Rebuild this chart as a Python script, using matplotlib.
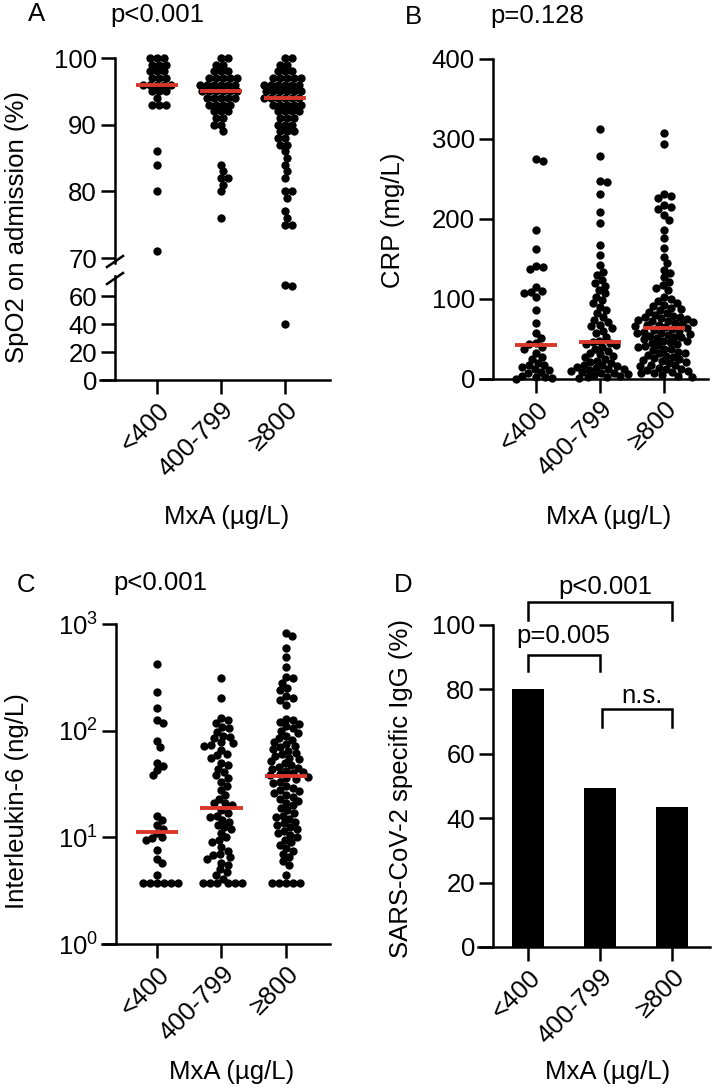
import numpy as np
import matplotlib.pyplot as plt
from matplotlib.lines import Line2D
from matplotlib.ticker import NullLocator

plt.rcParams['font.family'] = ['Liberation Sans', 'DejaVu Sans']
FS = 18.5
LW = 1.8
RED = '#d8382b'

groups = ['<400', '400-799', '\u2265800']

# SpO2 on admission (%)
spo2_lo = [100, 100, 100, 99, 99, 99, 98, 98, 98, 97, 97, 97, 96, 96, 96, 96, 96,
           95, 95, 95, 94, 93, 93, 93, 86, 84, 80, 71]
spo2_mid = [100, 100, 99, 99, 98, 98, 98, 97, 97, 97, 97, 97, 96, 96, 96, 96, 96, 96,
            95, 95, 95, 95, 95, 95, 94, 94, 94, 94, 94, 93, 93, 93, 93, 92, 92, 92,
            91, 91, 90, 90, 89, 84, 83, 82, 82, 81, 80, 76]
spo2_hi = [100, 100, 99, 99, 98, 98, 98, 97, 97, 97, 97, 97, 96, 96, 96, 96, 96, 96,
           95, 95, 95, 95, 95, 95, 94, 94, 94, 94, 94, 94, 93, 93, 93, 93, 93,
           92, 92, 92, 92, 91, 91, 91, 90, 90, 90, 89, 89, 89, 88, 88, 87, 87,
           86, 85, 84, 83, 82, 80, 80, 79, 77, 76, 75, 75, 68, 67, 40]
spo2_med = [96, 95, 94]

# CRP (mg/L)
crp_lo = [275, 272, 186, 163, 141, 140, 137, 115, 110, 109, 108, 103, 86, 70, 57, 51,
          45, 44, 40, 38, 32, 27, 25, 20, 18, 17, 15, 12, 11, 9, 8, 4, 3, 2, 1, 0.5]
crp_mid = [312, 279, 248, 246, 231, 209, 195, 167, 155, 142, 134, 130, 124, 120, 116,
           111, 107, 103, 99, 95, 90, 86, 82, 78, 74, 71, 68, 66, 64, 60, 57, 52, 48,
           46, 45, 44, 42, 40, 38, 35, 33, 31, 29, 27, 25, 23, 21, 20, 18, 17, 16, 15,
           14, 13, 12, 11, 10, 9, 8, 7, 6, 5, 4, 3, 2, 1]
crp_hi = [307, 294, 231, 229, 226, 217, 215, 213, 205, 199, 186, 176, 164, 153, 145,
          136, 132, 127, 121, 117, 114, 111, 102, 100, 97, 95, 93, 91, 89, 88, 86, 84,
          82, 80, 79, 78, 77, 76, 75, 74, 73, 72, 71, 70, 69, 68, 67, 66, 65, 64,
          62, 61, 60, 59, 58, 57, 56, 55, 54, 53, 52, 51, 50, 48, 47, 46, 45, 44, 42,
          41, 40, 38, 37, 36, 34, 33, 32, 30, 29, 28, 26, 25, 24, 22, 21, 20, 18, 17,
          16, 14, 13, 12, 11, 10, 9, 8, 7, 5, 4, 3]
crp_med = [42, 46, 64]

# Interleukin-6 (ng/L)
il6_lo = [421, 229, 164, 126, 118, 80, 70, 50, 47, 43, 38, 16, 14.5, 13, 12, 11, 10,
          9.8, 9.4, 7.6, 6.3, 5.7, 4.4, 3.75, 3.75, 3.75, 3.75, 3.75, 3.75]
il6_mid = [310, 202, 131, 126, 118, 108, 105, 97, 90, 87, 85, 78, 76, 74, 72, 66, 61,
           59, 55, 50, 48, 44, 41, 38, 36, 33, 30, 28, 25, 23, 21, 21, 20, 18, 17, 16,
           15.5, 14.5, 14, 13, 12.5, 12, 11, 10, 9.5, 9, 8.1, 7.5, 7, 6.8, 6.5, 6.2,
           5.8, 5.5, 5, 4.7, 4.4, 4.1, 3.75, 3.75, 3.75, 3.75, 3.75, 3.75]
il6_hi = [817, 770, 595, 490, 395, 318, 310, 280, 250, 240, 210, 202, 195, 173, 130,
          125, 120, 115, 110, 105, 100, 95, 90, 86, 82, 78, 75, 72, 70, 67, 65, 62, 60,
          58, 56, 54, 52, 50, 48, 46, 45, 44, 42, 41, 40, 39, 38, 37, 36, 35, 33, 32,
          30, 29, 28, 27, 26, 25, 24, 23, 22, 21, 20, 19, 18, 17, 16, 15.5, 15, 14,
          13.5, 13, 12.5, 12, 11.5, 11, 10.5, 10, 9.5, 9, 8.5, 8, 7.5, 7, 6.5, 6, 5.5,
          4.4, 3.75, 3.75, 3.75, 3.75, 3.75]
il6_med = [11.1, 18.8, 37.5]

# SARS-CoV-2 specific IgG (%)
igg_pct = [80, 49.3, 43.6]

W, H = 712, 1092
fig = plt.figure(figsize=(W / 100, H / 100), dpi=100)


def fx(px):
    return px / W


def fy(py):
    return 1 - py / H


def px_axes(l, r, t, b, x0, step):
    ax = fig.add_axes([l / W, 1 - b / H, (r - l) / W, (b - t) / H])
    ax.set_xlim((l - x0) / step, (r - x0) / step)
    ax.patch.set_alpha(0)
    for s in ['top', 'right']:
        ax.spines[s].set_visible(False)
    ax.spines['left'].set_linewidth(LW)
    ax.spines['bottom'].set_linewidth(LW)
    ax.tick_params(direction='out', length=10, width=LW, labelsize=FS, pad=3)
    return ax


def swarm(ax, xc, vals, d=7.0):
    vals = np.asarray(vals, dtype=float)
    pts = ax.transData.transform(np.column_stack([np.full(len(vals), xc), vals]))
    ys = pts[:, 1]
    x0 = pts[0, 0]
    offs = np.zeros(len(vals))
    px, py = [], []
    for i in np.argsort(-ys, kind='stable'):
        y = ys[i]
        near = [(a, b) for a, b in zip(px, py) if abs(b - y) < d]
        cands = [0.0]
        for a, b in near:
            dx = np.sqrt(d * d - (b - y) ** 2)
            cands += [a + dx, a - dx]
        cands.sort(key=abs)
        for c in cands:
            if all((c - a) ** 2 + (y - b) ** 2 >= d * d - 1e-6 for a, b in near):
                offs[i] = c
                break
        px.append(offs[i])
        py.append(y)
    inv = ax.transData.inverted()
    return inv.transform(np.column_stack([x0 + offs, ys]))[:, 0]


def dots(ax, xc, vals, d=7.0):
    if len(vals) == 0:
        return
    xs = swarm(ax, xc, vals, d)
    ax.scatter(xs, vals, s=36, c='black', linewidths=0, clip_on=False, zorder=3)


def median_bar(ax, xc, m):
    ax.plot([xc - 0.33, xc + 0.33], [m, m], color=RED, lw=2.8,
            solid_capstyle='butt', clip_on=False, zorder=4)


def xcats(ax):
    ax.set_xticks([0, 1, 2])
    ax.set_xticklabels(groups, rotation=45, ha='right', rotation_mode='anchor')


# ---- A: SpO2 with broken axis
axA1 = px_axes(100, 330, 58, 263, 157, 64)
axA1.set_ylim(69.25, 100)
axA1.spines['left'].set_position(('data', (115 - 157) / 64))
axA1.spines['bottom'].set_visible(False)
axA1.set_xticks([])
axA1.set_yticks([70, 80, 90, 100])

axA2 = px_axes(100, 330, 276, 380, 157, 64)
axA2.set_ylim(0, 104 / 1.4)
axA2.spines['left'].set_position(('data', (115 - 157) / 64))
axA2.set_yticks([0, 20, 40, 60])
xcats(axA2)

for i, g in enumerate([spo2_lo, spo2_mid, spo2_hi]):
    dots(axA1, i, [v for v in g if v >= 70])
    dots(axA2, i, [v for v in g if v < 70])
    median_bar(axA1, i, spo2_med[i])

for y1, y2 in [(267, 256), (284, 273)]:
    fig.add_artist(Line2D([fx(107), fx(123)], [fy(y1), fy(y2)], lw=LW, color='black'))

# ---- B: CRP
axB = px_axes(480, 708, 59, 379, 536, 64)
axB.set_ylim(0, 400)
axB.spines['left'].set_position(('data', (493 - 536) / 64))
axB.set_yticks([0, 100, 200, 300, 400])
xcats(axB)
for i, g in enumerate([crp_lo, crp_mid, crp_hi]):
    dots(axB, i, g)
    median_bar(axB, i, crp_med[i])

# ---- C: IL-6 (log)
axC = px_axes(102, 330, 624, 944, 157, 64.5)
axC.set_yscale('log')
axC.set_ylim(1, 1000)
axC.spines['left'].set_position(('data', (116 - 157) / 64.5))
axC.set_yticks([1, 10, 100, 1000])
axC.yaxis.set_minor_locator(NullLocator())
xcats(axC)
for i, g in enumerate([il6_lo, il6_mid, il6_hi]):
    dots(axC, i, g)
    median_bar(axC, i, il6_med[i])

# ---- D: IgG bars
axD = px_axes(478, 710, 625, 947, 528, 72)
axD.set_ylim(0, 100)
axD.spines['left'].set_position(('data', (493 - 528) / 72))
axD.set_yticks([0, 20, 40, 60, 80, 100])
xcats(axD)
axD.bar([0, 1, 2], igg_pct, width=0.44, color='black', zorder=2)

brackets = [(0, 2, 107.1, 101.6, 'p<0.001', 1.07, 109.5),
            (0, 1, 90.7, 85.7, 'p=0.005', 0.49, 94.5),
            (1.03, 2, 73.9, 68.3, 'n.s.', 1.58, 75.8)]
for x1, x2, yb, yl, t, tx, ty in brackets:
    axD.plot([x1, x1, x2, x2], [yl, yb, yb, yl], color='black', lw=LW,
             clip_on=False, solid_joinstyle='miter')
    axD.text(tx, ty, t, ha='center', va='baseline', fontsize=FS)

# ---- labels
for lab, x, y in [('A', 37, 21), ('B', 413, 24), ('C', 26, 592), ('D', 403, 592)]:
    fig.text(fx(x), fy(y), lab, ha='center', va='baseline', fontsize=FS)
for t, x, y in [('p<0.001', 110, 22), ('p=0.128', 490, 23), ('p<0.001', 113, 590)]:
    fig.text(fx(x), fy(y), t, ha='left', va='baseline', fontsize=FS)

for t, x, y in [('SpO2 on admission (%)', 17, 227), ('CRP (mg/L)', 393, 220),
                ('Interleukin-6 (ng/L)', 17, 801), ('SARS-CoV-2 specific IgG (%)', 401, 789)]:
    fig.text(fx(x), fy(y), t, rotation=90, ha='center', va='center', fontsize=FS)

for x, y in [(227, 517), (609, 517), (232, 1072), (608, 1072)]:
    fig.text(fx(x), fy(y), 'MxA (\u00b5g/L)', ha='center', va='center', fontsize=FS)

fig.savefig('out.png', dpi=100)
